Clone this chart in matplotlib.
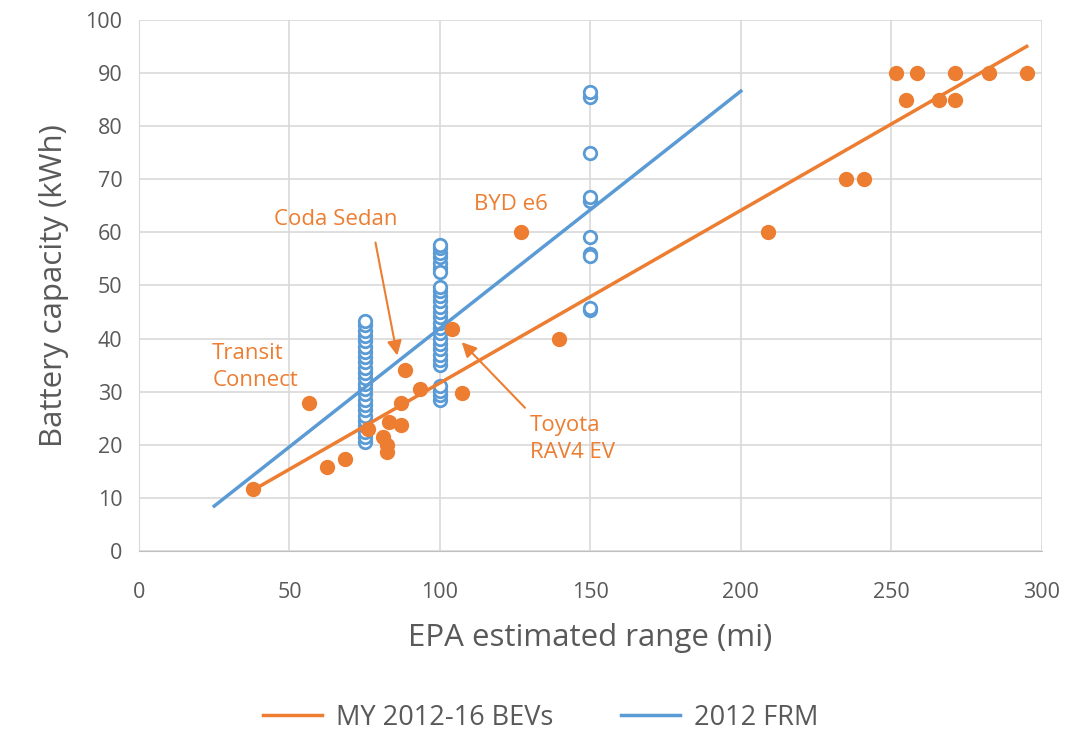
import matplotlib.pyplot as plt
import numpy as np

plt.rcParams['font.family'] = ['Open Sans', 'DejaVu Sans']

ORANGE = '#ED7D31'
BLUE = '#5B9BD5'
GREY = '#595959'

# MY 2012-16 BEVs (EPA range mi, battery kWh)
bev_range = [38, 56.5, 62.5, 68.5, 76, 81, 82.5, 82.5, 83, 87, 87, 88.5, 93.5,
             104, 107.5, 127, 139.5, 209, 235, 241, 251.5, 258.5, 271, 282.5,
             295, 255, 266, 271]
bev_kwh = [11.7, 27.9, 15.9, 17.4, 23, 21.5, 20, 18.6, 24.2, 23.8, 27.9, 34, 30.6,
           41.8, 29.8, 60, 40, 60, 70, 70, 90, 90, 90, 90,
           90, 85, 85, 85]

# 2012 FRM vehicle points
frm_range = [75] * 24 + [100] * 27 + [150] * 10
frm_kwh = ([20.5, 21.5, 22.5, 23.5, 24.5, 25.5, 26.5, 27.5, 28.5, 29.5, 30.5, 31.5,
            32.5, 33.5, 34.5, 35.5, 36.5, 37.5, 38.5, 39.5, 40.5, 41.5, 42.5, 43.3] +
           [28.5, 29.3, 30.2, 31.0, 35.0, 36.0, 37.0, 38.0, 39.0, 40.0, 41.0, 42.0,
            43.0, 44.0, 45.0, 46.0, 47.0, 48.0, 49.0, 49.7, 53.3, 54.3, 55.3, 56.2,
            57.0, 57.7, 52.5] +
           [85.4, 86.4, 74.9, 66.0, 66.7, 59.2, 56.0, 55.6, 45.3, 45.7])

# trend lines: slope, intercept, x span
bev_fit = [0.325, -0.85]
bev_span = [38, 295]
frm_fit = [0.4465, -2.7]
frm_span = [25, 200]

fig = plt.figure(figsize=(10.92, 7.34), dpi=100)
ax = fig.add_axes([0.1273, 0.2493, 0.8267, 0.7235])

xs = np.array(bev_span)
ax.plot(xs, bev_fit[0] * xs + bev_fit[1], color=ORANGE, lw=2.5, zorder=3,
        label='MY 2012-16 BEVs')
xs = np.array(frm_span)
ax.plot(xs, frm_fit[0] * xs + frm_fit[1], color=BLUE, lw=2.5, zorder=3,
        label='2012 FRM')

ax.plot(frm_range, frm_kwh, 'o', ms=9, mfc='white', mec=BLUE, mew=2,
        zorder=2, label='_nolegend_')
ax.plot(bev_range, bev_kwh, 'o', ms=10, color=ORANGE, zorder=4,
        label='_nolegend_')

ax.set_xlim(0, 300)
ax.set_ylim(0, 100)
ax.set_xticks(range(0, 301, 50))
ax.set_yticks(range(0, 101, 10))
ax.grid(True, color='#D9D9D9', lw=1.2)
ax.set_axisbelow(True)
for s in ['top', 'right']:
    ax.spines[s].set_visible(False)
ax.spines['left'].set_color('#D9D9D9')
ax.spines['bottom'].set_color('#BFBFBF')
ax.tick_params(length=0, labelsize=15.5, colors=GREY)
ax.tick_params(axis='x', pad=22)
ax.tick_params(axis='y', pad=12)
ax.set_xlabel('EPA estimated range (mi)', fontsize=22.5, color=GREY, labelpad=15)
ax.set_ylabel('Battery capacity (kWh)', fontsize=22.5, color=GREY, labelpad=12)

ann = dict(color=ORANGE, fontsize=16)
ax.text(65.4, 62.5, 'Coda Sedan', ha='center', va='center', **ann)
ax.text(123.6, 65.2, 'BYD e6', ha='center', va='center', **ann)
ax.text(24.3, 34.7, 'Transit\nConnect', ha='left', va='center',
        linespacing=1.35, **ann)
ax.text(129.9, 21.1, 'Toyota\nRAV4 EV', ha='left', va='center',
        linespacing=1.35, **ann)
arrow = dict(arrowstyle='-|>', color=ORANGE, lw=1.5, mutation_scale=22)
ax.annotate('', xy=(86, 36.3), xytext=(78.4, 58.6), arrowprops=arrow)
ax.annotate('', xy=(106.6, 39.7), xytext=(128.9, 26.6), arrowprops=arrow)

leg = fig.legend(loc='lower center', bbox_to_anchor=(0.495, -0.03), ncol=2,
                 frameon=False, fontsize=19.5, handlelength=2.2,
                 handletextpad=0.5, columnspacing=2.5)
for t in leg.get_texts():
    t.set_color(GREY)

fig.savefig('out.png', dpi=100)
